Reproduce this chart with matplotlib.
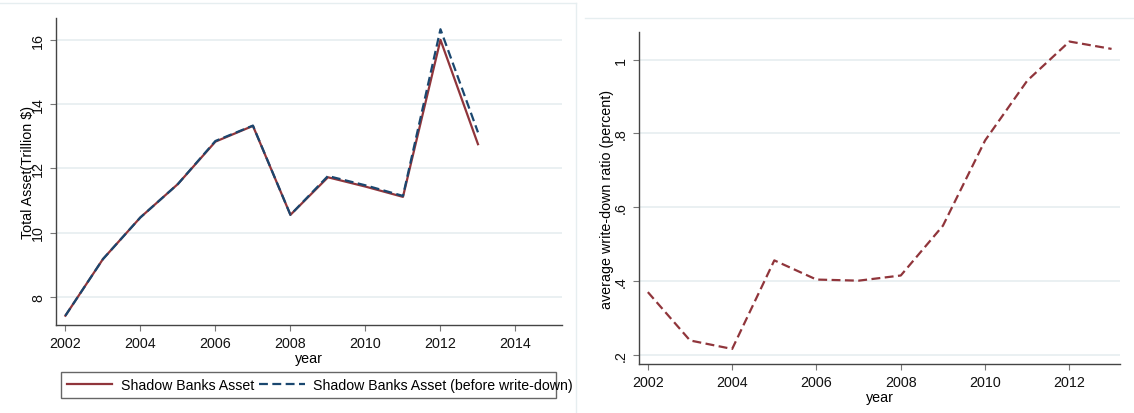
import matplotlib
matplotlib.use("Agg")
import matplotlib.pyplot as plt
from matplotlib.lines import Line2D
from matplotlib.patches import Rectangle

plt.rcParams['font.family'] = ['Liberation Sans', 'DejaVu Sans']
plt.rcParams['font.size'] = 10

# Données
years = [2002, 2003, 2004, 2005, 2006, 2007, 2008, 2009, 2010, 2011, 2012, 2013]
asset = [7.41, 9.17, 10.47, 11.51, 12.83, 13.32, 10.55, 11.72, 11.43, 11.11, 16.0, 12.75]
asset_before = [7.41, 9.17, 10.47, 11.51, 12.85, 13.33, 10.55, 11.76, 11.47, 11.14, 16.33, 13.12]
writedown = [0.37, 0.239, 0.216, 0.456, 0.404, 0.401, 0.415, 0.55, 0.781, 0.943, 1.049, 1.029]

left_xticks = [2002, 2004, 2006, 2008, 2010, 2012, 2014]
left_yticks = [8, 10, 12, 14, 16]
right_xticks = [2002, 2004, 2006, 2008, 2010, 2012]
right_yticks = [0.2, 0.4, 0.6, 0.8, 1.0]
right_ylabels = [".2", ".4", ".6", ".8", "1"]

maroon = '#90353b'
navy = '#1a476f'
grid_col = '#e6eef0'
axis_col = '#444444'

W, H = 1134, 414
fig = plt.figure(figsize=(W / 100, H / 100), dpi=100)


def style_axes(ax):
    for s in ['top', 'right']:
        ax.spines[s].set_visible(False)
    for s in ['left', 'bottom']:
        ax.spines[s].set_color(axis_col)
        ax.spines[s].set_linewidth(1.0)
    ax.tick_params(axis='both', length=4.3, width=0.8, color='#777777',
                   labelsize=10.3, labelcolor='#111111', pad=3.6)
    ax.grid(axis='y', color=grid_col, linewidth=1.2)
    ax.grid(axis='x', visible=False)
    ax.set_axisbelow(True)
    for lab in ax.get_yticklabels():
        lab.set_rotation(90)
        lab.set_va('center')


# --- Premier graphique : actifs du shadow banking ---
ax1 = fig.add_axes([56 / W, 1 - 326 / H, 506 / W, 307 / H])
ax1.plot(years, asset, color=maroon, linewidth=1.6, label="Shadow Banks Asset")
ax1.plot(years, asset_before, color=navy, linewidth=1.6, dashes=(4, 2),
         label="Shadow Banks Asset (before write-down)")
ax1.set_xlim(2001.75, 2015.24)
ax1.set_ylim(7.12, 16.68)
ax1.set_xticks(left_xticks)
ax1.set_yticks(left_yticks)
ax1.set_yticklabels([str(v) for v in left_yticks])
style_axes(ax1)
ax1.set_xlabel("year", labelpad=1, fontsize=10.3)
ax1.set_ylabel("Total Asset(Trillion $)", fontsize=10.3)
ax1.yaxis.set_label_coords(-0.0415, 0.5)

# --- Deuxième graphique : ratio moyen de dépréciation ---
ax2 = fig.add_axes([639 / W, 1 - 364.7 / H, 481 / W, 331.4 / H])
ax2.plot(years, writedown, color=maroon, linewidth=1.6, dashes=(4, 2))
ax2.set_xlim(2001.79, 2013.2)
ax2.set_ylim(0.176, 1.074)
ax2.set_xticks(right_xticks)
ax2.set_yticks(right_yticks)
ax2.set_yticklabels(right_ylabels)
style_axes(ax2)
ax2.set_xlabel("year", labelpad=1, fontsize=10.3)
ax2.set_ylabel("average write-down ratio (percent)", fontsize=10.3)
ax2.yaxis.set_label_coords(-0.052, 0.5)

# Légende avec cadre tracé à part
handles, labels = ax1.get_legend_handles_labels()
fig.legend(handles, labels, loc='center left', ncol=2, frameon=False,
           bbox_to_anchor=(66.7 / W, 1 - 386 / H), borderpad=0, borderaxespad=0,
           handlelength=3.2, handletextpad=0.6, columnspacing=0.4, fontsize=10.2)
fig.add_artist(Rectangle((60.7 / W, 1 - 399.3 / H), 495 / W, 26.6 / H,
                         transform=fig.transFigure, fill=False,
                         edgecolor='#666666', linewidth=1.0))

# Bordures claires des deux zones graphiques
fig.add_artist(Line2D([0, 576 / W], [1 - 4 / H, 1 - 4 / H], color=grid_col, linewidth=1))
fig.add_artist(Line2D([576 / W, 576 / W], [0, 1 - 4 / H], color=grid_col, linewidth=1))
fig.add_artist(Line2D([585 / W, 1], [1 - 19.3 / H, 1 - 19.3 / H], color=grid_col, linewidth=1))

fig.savefig("out.png", dpi=100)
